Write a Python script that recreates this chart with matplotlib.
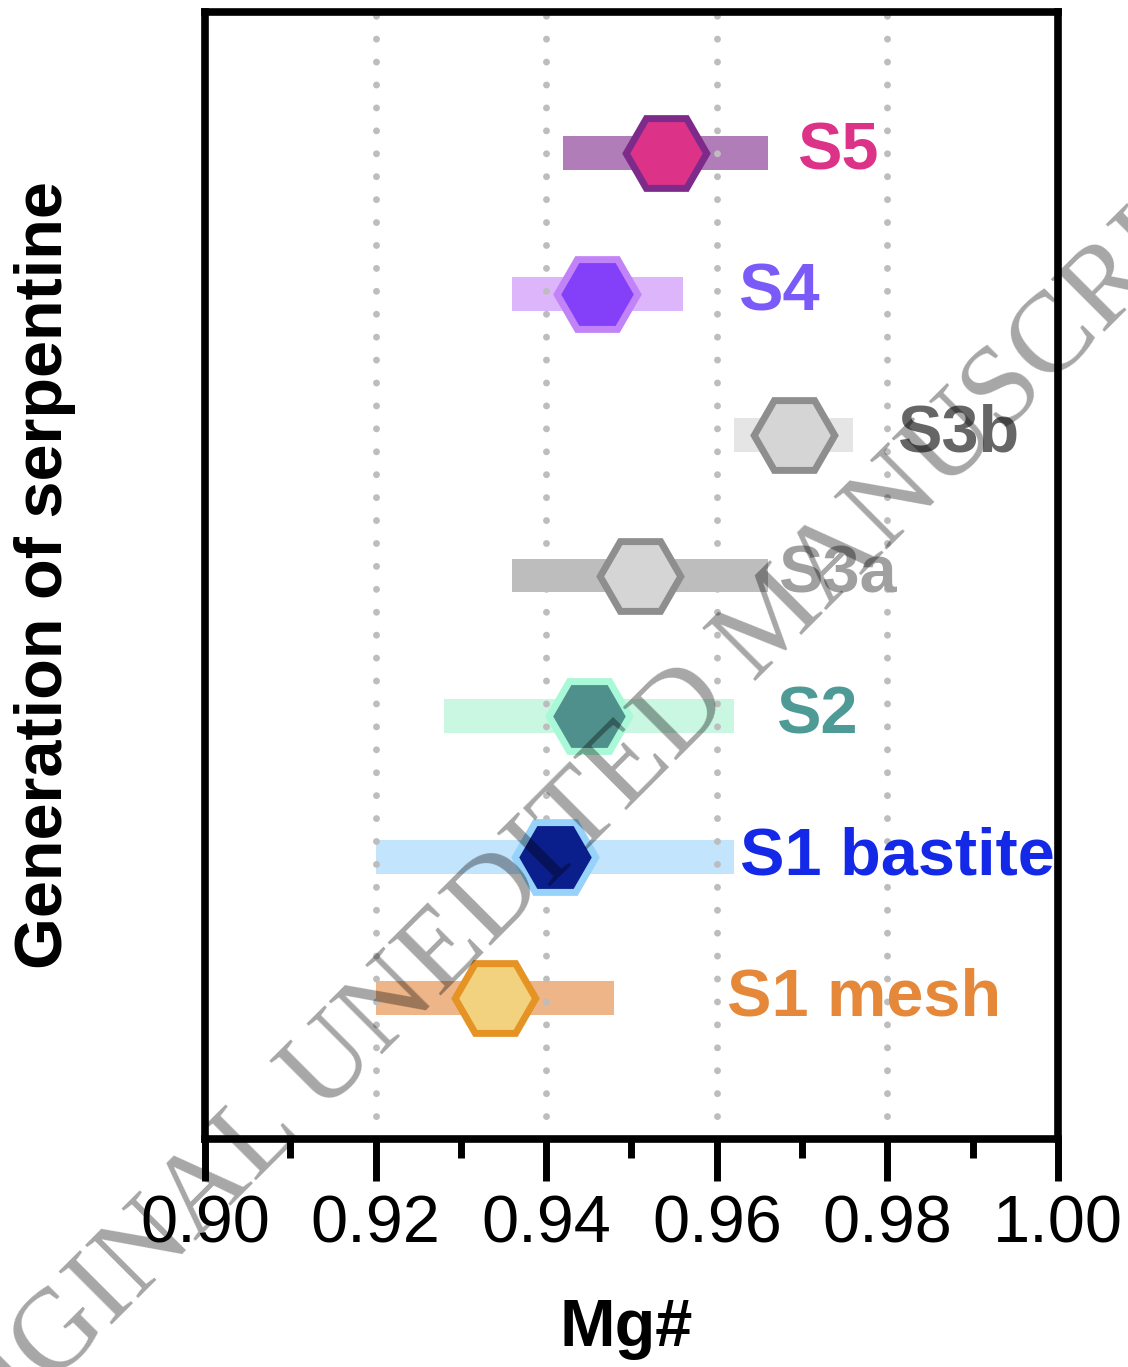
import matplotlib
matplotlib.use("Agg")
import matplotlib.pyplot as plt
from matplotlib.ticker import MultipleLocator, FormatStrFormatter

plt.rcParams.update({"font.family": ["Liberation Sans", "DejaVu Sans"]})

# serpentine generations, listed bottom to top
names = ["S1 mesh", "S1 bastite", "S2", "S3a", "S3b", "S4", "S5"]
mg_low = [0.920, 0.920, 0.928, 0.936, 0.962, 0.936, 0.942]
mg_high = [0.948, 0.962, 0.962, 0.966, 0.976, 0.956, 0.966]
mg_mean = [0.934, 0.941, 0.945, 0.951, 0.969, 0.946, 0.954]

bar_colors = ["#EEB588", "#C2E4FD", "#C9F7E2", "#BDBDBD", "#E5E5E5", "#DCB5FB", "#B07DB9"]
hex_face = ["#F2D27E", "#0A1E8C", "#4F8F8C", "#D5D5D5", "#D5D5D5", "#8440F8", "#DC3388"]
hex_edge = ["#E59324", "#96D2FA", "#A9F9D8", "#8E8E8E", "#8E8E8E", "#C282F8", "#7D2A8A"]
label_colors = ["#E5883A", "#1428E8", "#4E9A97", "#A0A0A0", "#666666", "#7B5BF7", "#DC3288"]
label_x = [0.9612, 0.9627, 0.9670, 0.9672, 0.9811, 0.9625, 0.9694]

fig = plt.figure(figsize=(11.28, 13.67), dpi=100)
ax = fig.add_axes([205 / 1128, 1 - 1139 / 1367, 853 / 1128, 1127 / 1367])

rows = list(range(1, len(names) + 1))

# range bars
ax.barh(rows, [h - l for l, h in zip(mg_low, mg_high)], left=mg_low,
        height=0.24, color=bar_colors, zorder=1)

# dotted grid at major ticks
for gx in [0.92, 0.94, 0.96, 0.98]:
    ax.axvline(gx, color="#BDBDBD", lw=5, linestyle=(0, (0.001, 3.3)),
               dash_capstyle="round", zorder=2)

# mean markers
for y, m, fc, ec in zip(rows, mg_mean, hex_face, hex_edge):
    ax.plot([m], [y], marker="H", ms=58, mfc=fc, mec=ec, mew=5,
            ls="none", zorder=3)

for y, lx, name, c in zip(rows, label_x, names, label_colors):
    ax.text(lx, y, name, color=c, fontsize=48, fontweight="bold",
            ha="left", va="center", clip_on=False, zorder=4)

ax.set_xlim(0.90, 1.00)
ax.set_ylim(0, 8)
ax.xaxis.set_major_locator(MultipleLocator(0.02))
ax.xaxis.set_minor_locator(MultipleLocator(0.01))
ax.xaxis.set_major_formatter(FormatStrFormatter("%.2f"))
ax.tick_params(axis="x", which="major", length=30, width=5, labelsize=48, pad=10)
ax.tick_params(axis="x", which="minor", length=14, width=5)
ax.set_yticks([])
for sp in ax.spines.values():
    sp.set_linewidth(5.5)

ax.set_xlabel("Mg#", fontsize=48, fontweight="bold")
ax.xaxis.set_label_coords(0.494, -0.141)
ax.set_ylabel("Generation of serpentine", fontsize=48, fontweight="bold")
ax.yaxis.set_label_coords(-0.151, 0.5)

# diagonal stamp across the page
fig.text(575 / 1128, 1 - 822 / 1367, "ORIGINAL UNEDITED MANUSCRIPT",
         rotation=45, rotation_mode="anchor", ha="center", va="center",
         fontsize=83, family="Liberation Serif", color="black", alpha=0.35,
         zorder=10)

fig.savefig("out.png", dpi=100, facecolor="white")
